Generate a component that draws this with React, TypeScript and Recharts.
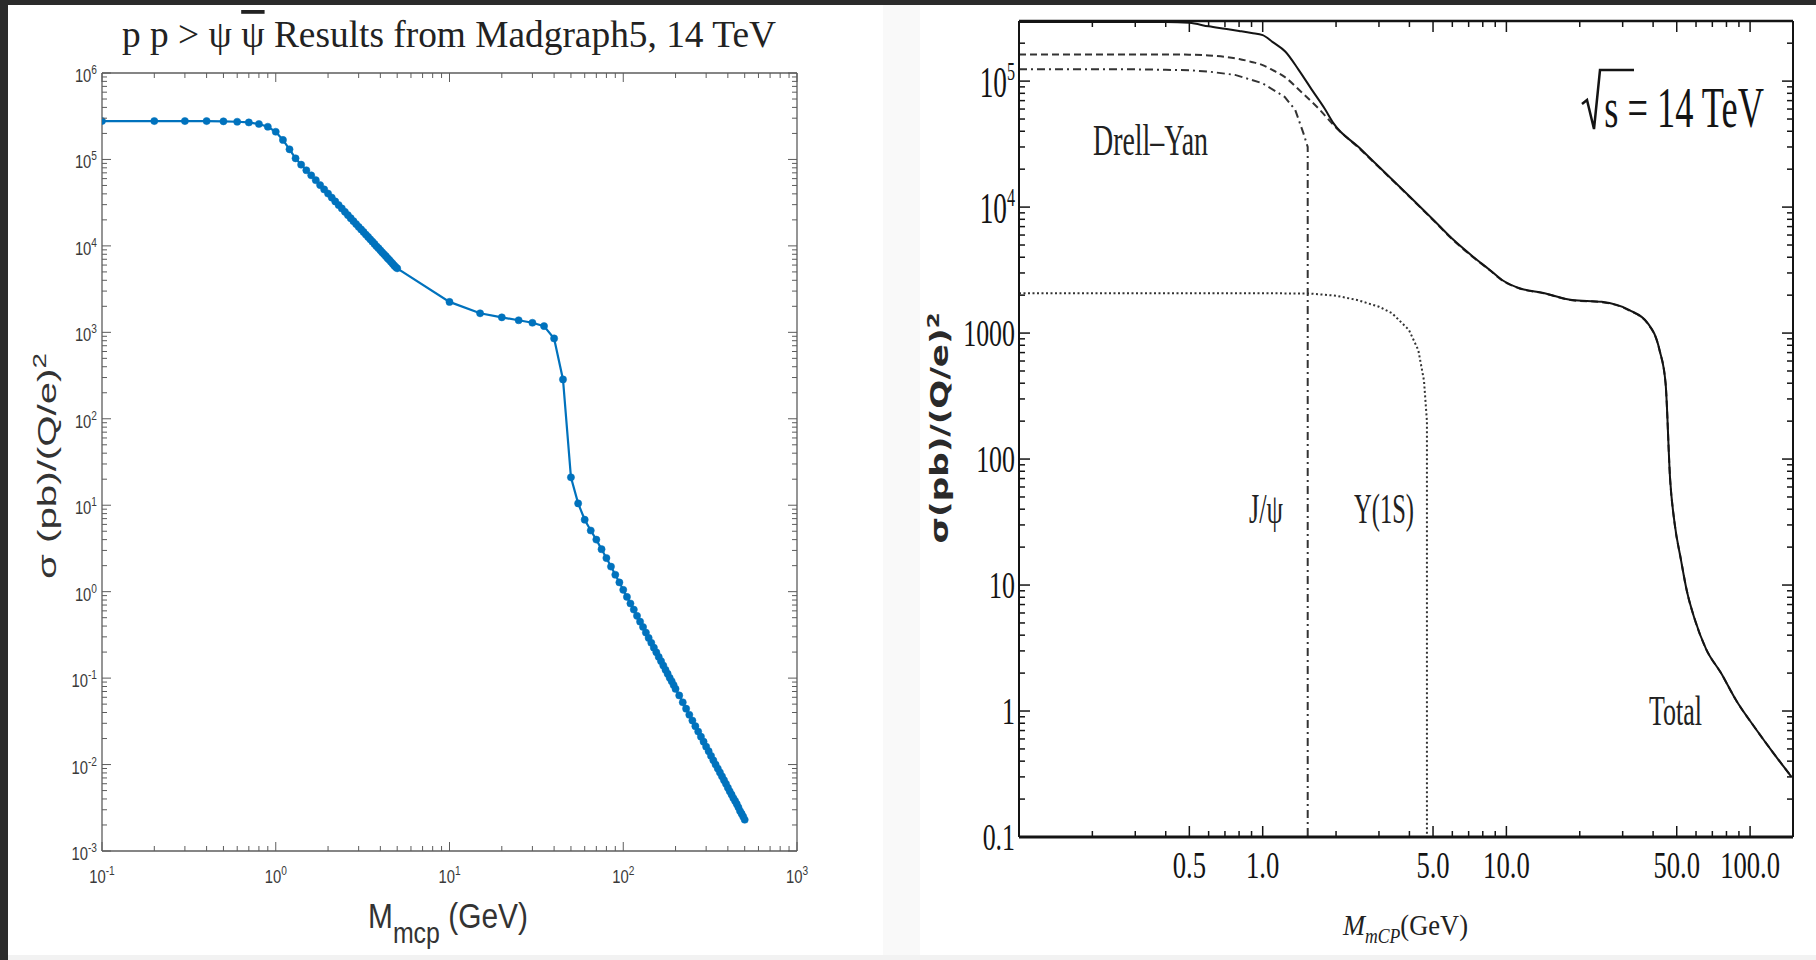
import { LineChart, Line, XAxis, YAxis, ReferenceLine } from 'recharts';

// ---------------------------------------------------------------------------
// Two cross-section plots side by side: Madgraph5 scan (left) and the
// Drell-Yan / J/psi / Upsilon breakdown (right).
// ---------------------------------------------------------------------------

const W = 1816;
const H = 960;

// ---- left panel: pp > psi psibar, Madgraph5 ----
const mgMass = [
  0.1, 0.2, 0.3, 0.4, 0.5, 0.6, 0.7, 0.8, 0.9, 1.0,
  1.1, 1.2, 1.3, 1.4, 1.5, 1.6, 1.7, 1.8, 1.9, 2.0,
  2.1, 2.2, 2.3, 2.4, 2.5, 2.6, 2.7, 2.8, 2.9, 3.0,
  3.1, 3.2, 3.3, 3.4, 3.5, 3.6, 3.7, 3.8, 3.9, 4.0,
  4.1, 4.2, 4.3, 4.4, 4.5, 4.6, 4.7, 4.8, 4.9, 5.0,
  10, 15, 20, 25, 30, 35, 40, 45, 50,
  55, 60, 65, 70, 75, 80, 85, 90, 95, 100,
  105, 110, 115, 120, 125, 130, 135, 140, 145, 150,
  155, 160, 165, 170, 175, 180, 185, 190, 195, 200,
  210, 220, 230, 240, 250, 260, 270, 280, 290, 300,
  310, 320, 330, 340, 350, 360, 370, 380, 390, 400,
  410, 420, 430, 440, 450, 460, 470, 480, 490, 500,
];
const mgSigma = [
  2.78e5, 2.78e5, 2.78e5, 2.78e5, 2.76e5, 2.73e5, 2.68e5, 2.57e5, 2.39e5, 2.09e5,
  1.68e5, 1.31e5, 1.03e5, 8.7e4, 7.5e4, 6.55e4, 5.75e4, 5.05e4, 4.5e4, 4.03e4,
  3.62e4, 3.27e4, 2.97e4, 2.71e4, 2.48e4, 2.27e4, 2.09e4, 1.93e4, 1.79e4, 1.66e4,
  1.55e4, 1.45e4, 1.35e4, 1.27e4, 1.19e4, 1.12e4, 1.055e4, 9.9e3, 9.4e3, 8.9e3,
  8.4e3, 8.0e3, 7.6e3, 7.2e3, 6.9e3, 6.55e3, 6.25e3, 5.95e3, 5.7e3, 5.5e3,
  2.25e3, 1.66e3, 1.49e3, 1.38e3, 1.29e3, 1.18e3, 850, 285, 21,
  10.5, 6.8, 5.1, 4.0, 3.1, 2.45, 1.95, 1.57, 1.28, 1.05,
  0.87, 0.73, 0.62, 0.525, 0.45, 0.39, 0.336, 0.292, 0.256, 0.225,
  0.199, 0.176, 0.157, 0.14, 0.125, 0.1125, 0.101, 0.092, 0.083, 0.075,
  0.063, 0.0525, 0.0443, 0.0377, 0.0323, 0.0278, 0.0241, 0.021, 0.0184, 0.0161,
  0.0143, 0.0126, 0.0112, 0.01, 0.009, 0.0081, 0.0073, 0.0066, 0.006, 0.0054,
  0.0049, 0.0045, 0.0041, 0.0038, 0.0035, 0.0032, 0.0029, 0.0027, 0.0025, 0.0023,
];

const leftXMajor = [0.1, 1, 10, 100, 1000];
const leftYMajor = [1e-3, 1e-2, 1e-1, 1, 10, 100, 1e3, 1e4, 1e5, 1e6];
const minorSteps = [2, 3, 4, 5, 6, 7, 8, 9];

// ---- right panel: Drell-Yan + quarkonium decays at 14 TeV ----
const totalMass = [
  0.1, 0.2, 0.3, 0.4, 0.5, 0.6, 0.7, 0.8, 0.9, 1.0, 1.1, 1.24, 1.4, 1.6, 1.8, 1.95,
  2.5, 3, 4, 5, 6, 7.3, 8.5, 9.6, 11.4, 14.2, 18.6, 24.6, 32, 38, 42.5, 45, 47, 49,
  52, 55, 59, 66, 76, 88, 104, 124, 148,
];
const totalSigma = [
  2.95e5, 2.95e5, 2.95e5, 2.95e5, 2.9e5, 2.72e5, 2.6e5, 2.5e5, 2.41e5, 2.32e5, 2.04e5,
  1.71e5, 1.24e5, 8.4e4, 6.0e4, 4.64e4, 2.94e4, 2.09e4, 1.22e4, 7.98e3, 5.6e3, 4.04e3,
  3.2e3, 2.64e3, 2.26e3, 2.08e3, 1.83e3, 1.77e3, 1.52e3, 1.2e3, 733, 400, 68, 31,
  16, 9, 5.5, 3.1, 2.0, 1.2, 0.75, 0.47, 0.3,
];
const dyMass = [
  0.1, 0.2, 0.3, 0.4, 0.5, 0.6, 0.7, 0.8, 0.9, 1.0, 1.1, 1.23, 1.44, 1.69, 1.97,
  2.5, 3, 4, 5, 6, 7.3, 8.5, 9.6, 11.4, 14.2, 18.6, 24.6, 32, 38, 42.5, 45, 47, 49,
  52, 55, 59, 66, 76, 88, 104, 124, 148,
];
const dySigma = [
  1.63e5, 1.63e5, 1.63e5, 1.63e5, 1.62e5, 1.6e5, 1.56e5, 1.5e5, 1.42e5, 1.34e5, 1.22e5,
  1.08e5, 8.2e4, 6.1e4, 4.4e4, 2.9e4, 2.07e4, 1.21e4, 7.9e3, 5.55e3, 4.0e3, 3.18e3,
  2.62e3, 2.25e3, 2.07e3, 1.82e3, 1.76e3, 1.51e3, 1.19e3, 730, 398, 68, 31,
  16, 9, 5.5, 3.1, 2.0, 1.2, 0.75, 0.47, 0.3,
];
const jpsiMass = [0.1, 0.2, 0.3, 0.4, 0.5, 0.6, 0.77, 1.0, 1.23, 1.36, 1.47, 1.53, 1.53];
const jpsiSigma = [1.24e5, 1.24e5, 1.24e5, 1.23e5, 1.22e5, 1.19e5, 1.12e5, 9.6e4, 7.5e4, 5.9e4, 3.85e4, 3.0e4, 0.1];
const upsMass = [0.1, 0.5, 1.0, 1.56, 2.0, 2.44, 3.0, 3.39, 3.98, 4.35, 4.59, 4.72, 4.72];
const upsSigma = [2.07e3, 2.07e3, 2.07e3, 2.06e3, 1.98e3, 1.83e3, 1.62e3, 1.44e3, 1.06e3, 733, 420, 200, 0.1];

const rightXMajor = [0.5, 1, 5, 10, 50, 100];
const rightXLabels = ['0.5', '1.0', '5.0', '10.0', '50.0', '100.0'];
const rightXMinor = [0.2, 0.3, 0.4, 0.6, 0.7, 0.8, 0.9, 2, 3, 4, 6, 7, 8, 9, 20, 30, 40, 60, 70, 80, 90];
const rightYMajor = [0.1, 1, 10, 100, 1000, 1e4, 1e5];
const rightYLabels = ['0.1', '1', '10', '100', '1000', '10^4', '10^5'];

// ---- tables for the library ----
const zip = (xs: number[], ys: number[]) => xs.map((m, i) => ({ m, s: ys[i] }));
const mgData = zip(mgMass, mgSigma);
const totalData = zip(totalMass, totalSigma);
const dyData = zip(dyMass, dySigma);
const jpsiData = zip(jpsiMass, jpsiSigma);
const upsData = zip(upsMass, upsSigma);

const withMinors = (majors: number[]) =>
  majors.flatMap((d, i) => (i < majors.length - 1 ? [d, ...minorSteps.map((k) => d * k)] : [d]));
const leftXTicks = withMinors(leftXMajor);
const leftYTicks = withMinors(leftYMajor);
const rightXTicks = [...rightXMajor, ...rightXMinor].sort((a, b) => a - b);
const rightYTicks = [...withMinors(rightYMajor), 2e5];

// ---- geometry (page pixels) ----
const LX0 = 102, LX1 = 797, LY0 = 73, LY1 = 851;
const RX0 = 1019, RX1 = 1793, RY0 = 21, RY1 = 837;

const BLUE = '#0072BD';
const LFRAME = '#5c5c5c';
const LTEXT = '#3a3a3a';
const RINK = '#141414';
const SANS = '"Liberation Sans", Arial, sans-serif';
const SERIF = '"Liberation Serif", "Times New Roman", serif';

const findIdx = (v: number, list: number[]) => list.findIndex((t) => Math.abs(t - v) / t < 1e-6);

function LeftXTick(props: any) {
  const { x, payload } = props;
  const v = payload.value as number;
  const major = findIdx(v, leftXMajor) >= 0;
  const len = major ? 9 : 5;
  const exp = Math.round(Math.log10(v));
  return (
    <g>
      <line x1={x} x2={x} y1={LY1} y2={LY1 - len} stroke={LFRAME} />
      <line x1={x} x2={x} y1={LY0} y2={LY0 + len} stroke={LFRAME} />
      {major && (
        <text transform={`translate(${x} 883) scale(0.78 1)`} textAnchor="middle" fontFamily={SANS} fontSize={19} fill={LTEXT}>
          10<tspan dy={-8} fontSize={13}>{exp}</tspan>
        </text>
      )}
    </g>
  );
}

function LeftYTick(props: any) {
  const { y, payload } = props;
  const v = payload.value as number;
  const major = findIdx(v, leftYMajor) >= 0;
  const len = major ? 9 : 5;
  const exp = Math.round(Math.log10(v));
  return (
    <g>
      <line x1={LX0} x2={LX0 + len} y1={y} y2={y} stroke={LFRAME} />
      <line x1={LX1} x2={LX1 - len} y1={y} y2={y} stroke={LFRAME} />
      {major && (
        <text transform={`translate(97 ${y + 9}) scale(0.78 1)`} textAnchor="end" fontFamily={SANS} fontSize={19} fill={LTEXT}>
          10<tspan dy={-8} fontSize={13}>{exp}</tspan>
        </text>
      )}
    </g>
  );
}

function RightXTick(props: any) {
  const { x, payload } = props;
  const v = payload.value as number;
  const idx = findIdx(v, rightXMajor);
  const len = idx >= 0 ? 11 : 6;
  return (
    <g>
      <line x1={x} x2={x} y1={RY1} y2={RY1 - len} stroke={RINK} strokeWidth={1.5} />
      <line x1={x} x2={x} y1={RY0} y2={RY0 + len} stroke={RINK} strokeWidth={1.5} />
      {idx >= 0 && (
        <text transform={`translate(${x} 878) scale(0.72 1)`} textAnchor="middle" fontFamily={SERIF} fontSize={37} fill={RINK}>
          {rightXLabels[idx]}
        </text>
      )}
    </g>
  );
}

function RightYTick(props: any) {
  const { y, payload } = props;
  const v = payload.value as number;
  const idx = findIdx(v, rightYMajor);
  const len = idx >= 0 ? 11 : 6;
  const label = idx >= 0 ? rightYLabels[idx] : '';
  const [base, sup] = label.split('^');
  return (
    <g>
      <line x1={RX0} x2={RX0 + len} y1={y} y2={y} stroke={RINK} strokeWidth={1.5} />
      <line x1={RX1} x2={RX1 - len} y1={y} y2={y} stroke={RINK} strokeWidth={1.5} />
      {idx >= 0 && !sup && (
        <text transform={`translate(1015 ${y + 12.5}) scale(0.7 1)`} textAnchor="end" fontFamily={SERIF} fontSize={37} fill={RINK}>
          {base}
        </text>
      )}
      {idx >= 0 && sup && (
        <text transform={`translate(1015 ${y + 16}) scale(0.62 1)`} textAnchor="end" fontFamily={SERIF} fontSize={44} fill={RINK}>
          {base}<tspan dy={-17} fontSize={26}>{sup}</tspan>
        </text>
      )}
    </g>
  );
}

const AXW = 40;
const AXH = 30;

function LeftChart() {
  return (
    <LineChart
      width={W}
      height={H}
      data={mgData}
      margin={{ top: LY0, left: LX0 - AXW, right: W - LX1, bottom: H - LY1 - AXH }}
    >
      <XAxis
        dataKey="m"
        type="number"
        scale="log"
        domain={[0.1, 1000]}
        allowDataOverflow
        ticks={leftXTicks}
        interval={0}
        height={AXH}
        tickSize={0}
        tickMargin={0}
        tick={LeftXTick}
        axisLine={{ stroke: LFRAME, strokeWidth: 1.3 }}
      />
      <YAxis
        type="number"
        scale="log"
        domain={[1e-3, 1e6]}
        allowDataOverflow
        ticks={leftYTicks}
        interval={0}
        width={AXW}
        tickSize={0}
        tickMargin={0}
        tick={LeftYTick}
        axisLine={{ stroke: LFRAME, strokeWidth: 1.3 }}
      />
      <ReferenceLine y={1e6} stroke={LFRAME} strokeWidth={1.3} />
      <ReferenceLine x={1000} stroke={LFRAME} strokeWidth={1.3} />
      <Line
        dataKey="s"
        type="linear"
        stroke={BLUE}
        strokeWidth={2.2}
        dot={{ r: 3.6, fill: BLUE, stroke: BLUE, strokeWidth: 0.5 }}
        isAnimationActive={false}
      />
    </LineChart>
  );
}

function RightChart() {
  return (
    <LineChart
      width={W}
      height={H}
      margin={{ top: RY0, left: RX0 - AXW, right: W - RX1, bottom: H - RY1 - AXH }}
    >
      <XAxis
        dataKey="m"
        type="number"
        scale="log"
        domain={[0.1, 150]}
        allowDataOverflow
        ticks={rightXTicks}
        interval={0}
        height={AXH}
        tickSize={0}
        tickMargin={0}
        tick={RightXTick}
        axisLine={{ stroke: RINK, strokeWidth: 3 }}
      />
      <YAxis
        type="number"
        scale="log"
        domain={[0.1, 3e5]}
        allowDataOverflow
        ticks={rightYTicks}
        interval={0}
        width={AXW}
        tickSize={0}
        tickMargin={0}
        tick={RightYTick}
        axisLine={{ stroke: RINK, strokeWidth: 2 }}
      />
      <ReferenceLine y={3e5} stroke={RINK} strokeWidth={2.5} />
      <ReferenceLine x={150} stroke={RINK} strokeWidth={2} />
      <Line data={upsData} dataKey="s" type="linear" stroke="#333" strokeWidth={2} strokeDasharray="2 2.5" dot={false} isAnimationActive={false} />
      <Line data={jpsiData} dataKey="s" type="linear" stroke="#333" strokeWidth={2} strokeDasharray="8 4 2 4" dot={false} isAnimationActive={false} />
      <Line data={dyData} dataKey="s" type="monotoneX" stroke="#333" strokeWidth={2} strokeDasharray="7 4" dot={false} isAnimationActive={false} />
      <Line data={totalData} dataKey="s" type="monotoneX" stroke={RINK} strokeWidth={2} dot={false} isAnimationActive={false} />
    </LineChart>
  );
}

function Labels() {
  return (
    <svg width={W} height={H} style={{ position: 'absolute', left: 0, top: 0 }}>
      {/* left panel */}
      <text x={122} y={47} fontFamily={SERIF} fontSize={38} fill="#222" textLength={654} lengthAdjust="spacingAndGlyphs">
        {'p p > \u03C8 '}
        <tspan style={{ textDecoration: 'overline' }}>{'\u03C8'}</tspan>
        {' Results from Madgraph5, 14 TeV'}
      </text>
      <text transform="translate(368 928) scale(0.83 1)" fontFamily={SANS} fontSize={36} fill="#333">
        M<tspan dy={15} fontSize={30}>mcp</tspan>
        <tspan dy={-15} fontSize={36}>{' (GeV)'}</tspan>
      </text>
      <text
        transform="translate(56 466) rotate(-90)"
        textAnchor="middle"
        fontFamily={SANS}
        fontSize={26}
        fill="#333"
        textLength={226}
        lengthAdjust="spacingAndGlyphs"
      >
        {'\u03C3 (pb)/(Q/e)'}
        <tspan dy={-10} fontSize={18}>2</tspan>
      </text>

      {/* right panel */}
      <polyline
        points="1582,104 1587,100 1594,129 1600,70 1634,70"
        fill="none"
        stroke={RINK}
        strokeWidth={2.5}
        strokeLinejoin="miter"
      />
      <text transform="translate(1764 127) scale(0.65 1)" textAnchor="end" fontFamily={SERIF} fontSize={56} fill={RINK}>
        s = 14 TeV
      </text>
      <text x={1093} y={155} fontFamily={SERIF} fontSize={44} fill="#222" textLength={115} lengthAdjust="spacingAndGlyphs">
        {'Drell\u2013Yan'}
      </text>
      <text x={1249} y={523} fontFamily={SERIF} fontSize={42} fill="#222" textLength={34} lengthAdjust="spacingAndGlyphs">
        {'J/\u03C8'}
      </text>
      <text x={1354} y={523} fontFamily={SERIF} fontSize={42} fill="#222" textLength={60} lengthAdjust="spacingAndGlyphs">
        {'\u03A5(1S)'}
      </text>
      <text x={1649} y={725} fontFamily={SERIF} fontSize={42} fill="#222" textLength={53} lengthAdjust="spacingAndGlyphs">
        Total
      </text>
      <text x={1343} y={935} fontFamily={SERIF} fontSize={30} fill="#222" textLength={125} lengthAdjust="spacingAndGlyphs">
        <tspan fontStyle="italic">M</tspan>
        <tspan dy={8} fontSize={20} fontStyle="italic">mCP</tspan>
        <tspan dy={-8}>(GeV)</tspan>
      </text>
      <text
        transform="translate(948 428) rotate(-90)"
        textAnchor="middle"
        fontFamily={'"DejaVu Sans", sans-serif'}
        fontWeight="bold"
        fontSize={24}
        fill="#2a2a2a"
        textLength={231}
        lengthAdjust="spacingAndGlyphs"
      >
        {'\u03C3(pb)/(Q/e)'}
        <tspan dy={-9} fontSize={16}>2</tspan>
      </text>
    </svg>
  );
}

export default function App() {
  return (
    <div style={{ position: 'absolute', left: 0, top: 0, width: W, height: H, background: '#2b2b2b', overflow: 'hidden' }}>
      <div style={{ position: 'absolute', left: 8, top: 5, width: 875, height: 950, background: '#fff' }} />
      <div style={{ position: 'absolute', left: 883, top: 5, width: 37, height: 950, background: '#f9f9f9' }} />
      <div style={{ position: 'absolute', left: 920, top: 5, width: 896, height: 950, background: '#fff' }} />
      <div style={{ position: 'absolute', left: 8, top: 955, width: 1808, height: 5, background: '#f2f2f2' }} />
      <div style={{ position: 'absolute', left: 0, top: 0 }}>
        <LeftChart />
      </div>
      <div style={{ position: 'absolute', left: 0, top: 0 }}>
        <RightChart />
      </div>
      <Labels />
    </div>
  );
}
